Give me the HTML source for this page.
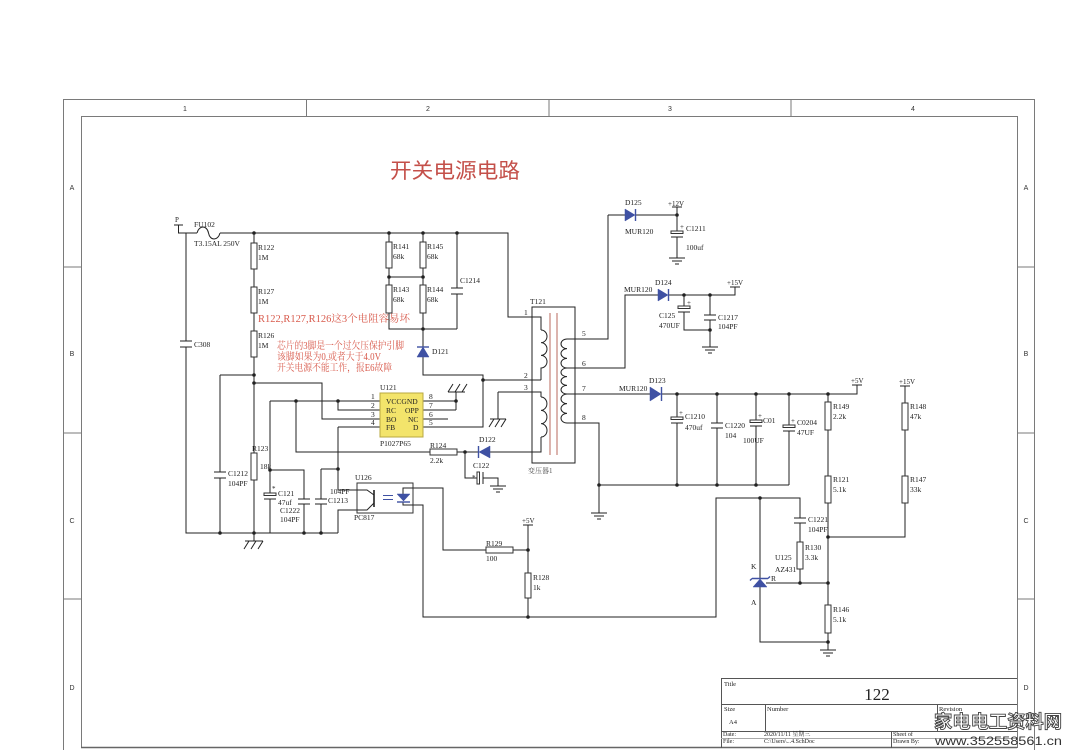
<!DOCTYPE html>
<html><head><meta charset="utf-8"><style>
html,body{margin:0;padding:0;background:#fff;}
svg{display:block;}
.t{font-family:"Liberation Serif","Noto Serif CJK SC",serif;font-size:7.5px;fill:#222;}
.s{font-family:"Liberation Sans",sans-serif;font-size:7px;fill:#333;}
.r{font-family:"Liberation Serif","Noto Serif CJK SC",serif;font-size:10px;fill:#d85a4c;}
</style></head><body>
<svg width="1068" height="750" viewBox="0 0 1068 750" xmlns="http://www.w3.org/2000/svg">
<rect width="1068" height="750" fill="#fff"/>
<!-- borders -->
<g stroke="#7a7a7a" stroke-width="1" fill="none">
<path d="M63.5,750 V99.5 H1034.5 V750"/>
<path d="M81.5,748 V116.5 H1017.5 V748"/>
<path d="M306.5,99 V117 M549,99 V117 M791,99 V117"/>
<path d="M63,267 H81 M63,433 H81 M63,599 H81 M1017,267 H1035 M1017,433 H1035 M1017,599 H1035"/>
</g>
<path d="M81,747.5 H1017" stroke="#666" stroke-width="1.6"/>
<g class="s" text-anchor="middle">
<text x="185" y="111">1</text><text x="428" y="111">2</text><text x="670" y="111">3</text><text x="913" y="111">4</text>
<text x="72" y="190">A</text><text x="72" y="356">B</text><text x="72" y="523">C</text><text x="72" y="690">D</text>
<text x="1026" y="190">A</text><text x="1026" y="356">B</text><text x="1026" y="523">C</text><text x="1026" y="690">D</text>
</g>
<!-- title -->
<text x="390" y="178" font-family="'Noto Sans CJK SC',sans-serif" font-size="21" fill="#c4504a" textLength="130" lengthAdjust="spacingAndGlyphs">开关电源电路</text>

<!-- wires -->
<g stroke="#222" stroke-width="1" fill="none">
<path d="M174,225 H183 M178.5,225 V233 H197"/>
<path d="M197,233 C199,225 207,225 208.5,233 C210,241 218,241 220,233"/>
<path d="M220,233 H508 V317 H541 V330"/>
<path d="M186,233 V341 M186,347 V533 H338"/>
<path d="M180,341 H192 M180,347 H192"/>
<path d="M254,233 V243 M254,269 V287 M254,313 V331 M254,357 V453 M254,480 V541"/>
<path d="M220,375 H254 M220,375 V472 M220,478 V533 M214,472 H226 M214,478 H226"/>
<path d="M254,383 H322 V419 H380"/>
<path d="M389,233 V242 M389,268 V285 M389,313 V329 H457"/>
<path d="M423,233 V242 M423,268 V285 M423,313 V347 M423,357 V375 H483 V427 H423 M483,380 H541"/>
<path d="M389,277 H423"/>
<path d="M457,233 V288 M457,294 V329 M451,288 H463 M451,294 H463"/>
<!-- U121 pins -->
<path d="M270,401 H380 M338,401 V410 H380 M338,427 H380 M423,401 H456 M423,410 H456 M456,392 V410 M423,419 H448"/>
<path d="M270,401 V493 M270,499 V533 M270,470 H304 V499 M304,504 V533 M264,499 H276 M298,499 H310 M298,504 H310"/>
<path d="M321,469 H338 M321,469 V499 M321,504 V533 M315,499 H327 M315,504 H327"/>
<path d="M338,427 V490 H357 M357,510 H338 V533"/>
<path d="M296,401 V452 H430 M457,452 H478 M490,452 H541 V437"/>
<path d="M465,452 V478 H477 M483,472 V484 M483,478 H498 V486"/>
<path d="M498,392 H541 V397 M498,392 V419"/>
<!-- transformer -->
<rect x="532" y="307" width="43" height="156"/>
<path d="M541,330 a6,6.333 0 0 1 0,12.667 a6,6.333 0 0 1 0,12.667 a6,6.333 0 0 1 0,12.666 V380"/>
<path d="M541,397 a6,6.667 0 0 1 0,13.333 a6,6.667 0 0 1 0,13.333 a6,6.667 0 0 1 0,13.334"/>
<path d="M608,215 V339 H567 a6,4.833 0 0 0 0,9.667 a6,4.833 0 0 0 0,9.667 a6,4.833 0 0 0 0,9.666 a6,4.333 0 0 0 0,8.667 a6,4.333 0 0 0 0,8.667 a6,4.333 0 0 0 0,8.666 a6,4.833 0 0 0 0,9.667 a6,4.833 0 0 0 0,9.667 a6,4.833 0 0 0 0,9.666 H599 V513"/>
<path d="M567,368 H625 V295 H658 M567,394 H650"/>
<!-- 12V -->
<path d="M608,215 H625 M636,215 H677 M677,207 V231 M677,237 V258 M672,207 H682 M671,237 H683"/>
<!-- 15V -->
<path d="M669,295 H735 V287 M730,287 H740 M684,295 V306 M684,312 V330 H710 M710,295 V315 M710,320 V347 M678,312 H690 M704,315 H716 M704,320 H716"/>
<!-- 5V -->
<path d="M662,394 H857 V385 M852,385 H862"/>
<path d="M677,394 V417 M671,423 H683 M677,423 V485"/>
<path d="M717,394 V423 M711,423 H723 M711,428 H723 M717,428 V485"/>
<path d="M756,394 V420 M750,426 H762 M756,426 V485"/>
<path d="M789,394 V425 M783,431 H795 M789,431 V485"/>
<path d="M599,485 H789"/>
<path d="M828,394 V402 M828,430 V476 M828,503 V605 M828,633 V650"/>
<path d="M905,386 V403 M900,386 H910 M905,430 V476 M905,503 V537 H828"/>
<!-- feedback -->
<path d="M413,488 H443 V550 H486 M513,550 H528 M528,525 V573 M523,525 H533 M528,598 V617"/>
<path d="M413,505 H423 V617 H716 V498 H800 V518 M794,518 H806 M794,523 H806 M800,523 V542 M800,569 V583"/>
<path d="M760,498 V579 M760,587 V642 H828 M766,583 H828"/>
<!-- PC817 -->
<rect x="357" y="483" width="56" height="30" stroke="#333"/>
<path d="M357,490 H367 L374,495 M357,510 H367 L374,503 M403,494 V488 H413 M403,502 V505 H413"/>
<!-- grounds earth -->
<path d="M490,486 H506 M493,489 H503 M496,492 H500"/>
<path d="M669,258 H685 M672,261 H682 M675,264 H679"/>
<path d="M702,347 H718 M705,350 H715 M708,353 H712"/>
<path d="M591,513 H607 M594,516 H604 M597,519 H601"/>
<path d="M820,650 H836 M823,653 H833 M826,656 H830"/>
<!-- chassis grounds -->
<path d="M245,541 H263 M249,541 L244,549 M256,541 L251,549 M263,541 L258,549"/>
<path d="M490,419 H506 M494,419 L489,427 M500,419 L495,427 M506,419 L501,427"/>
<path d="M448,392 H465 M448,392 L453,384 M455,392 L460,384 M462,392 L467,384"/>
</g>
<!-- core -->
<path d="M550,313 V455 M557,313 V455" stroke="#b86a5e" stroke-width="1"/>
<!-- resistors -->
<g fill="#fff" stroke="#333" stroke-width="1">
<rect x="251" y="243" width="6" height="26"/><rect x="251" y="287" width="6" height="26"/><rect x="251" y="331" width="6" height="26"/>
<rect x="251" y="453" width="6" height="27"/>
<rect x="386" y="242" width="6" height="26"/><rect x="420" y="242" width="6" height="26"/>
<rect x="386" y="285" width="6" height="28"/><rect x="420" y="285" width="6" height="28"/>
<rect x="430" y="449" width="27" height="6"/>
<rect x="486" y="547" width="27" height="6"/>
<rect x="525" y="573" width="6" height="25"/>
<rect x="797" y="542" width="6" height="27"/>
<rect x="825" y="402" width="6" height="28"/><rect x="825" y="476" width="6" height="27"/><rect x="825" y="605" width="6" height="28"/>
<rect x="902" y="403" width="6" height="27"/><rect x="902" y="476" width="6" height="27"/>
<!-- polarized cap plates -->
<rect x="264" y="493" width="12" height="2.5"/>
<rect x="477" y="472" width="2.5" height="12"/>
<rect x="671" y="231" width="12" height="2.5"/>
<rect x="678" y="306" width="12" height="2.5"/>
<rect x="671" y="417" width="12" height="2.5"/>
<rect x="750" y="420" width="12" height="2.5"/>
<rect x="783" y="425" width="12" height="2.5"/>
</g>
<!-- U121 chip -->
<rect x="380" y="393" width="43" height="44" fill="#f3e46b" stroke="#b8a840"/>
<g class="t" font-size="7">
<text x="386" y="404">VCCGND</text>
<text x="386" y="413">RC</text><text x="405" y="413">OPP</text>
<text x="386" y="422">BO</text><text x="408" y="422">NC</text>
<text x="386" y="430">FB</text><text x="413" y="430">D</text>
<text x="371" y="399">1</text><text x="371" y="408">2</text><text x="371" y="417">3</text><text x="371" y="425">4</text>
<text x="429" y="399">8</text><text x="429" y="408">7</text><text x="429" y="417">6</text><text x="429" y="425">5</text>
</g>
<!-- diodes -->
<g fill="#3f51a3" stroke="#3f51a3" stroke-width="1.4">
<polygon points="417,357 429,357 423,347" stroke-width="0.5"/><path d="M417,347 H429" fill="none"/>
<polygon points="490,446 490,458 479,452" stroke-width="0.5"/><path d="M478.5,446 V458" fill="none"/>
<polygon points="625,209 625,221 635,215" stroke-width="0.5"/><path d="M635.5,209 V221" fill="none"/>
<polygon points="658,289 658,301 668,295" stroke-width="0.5"/><path d="M668.5,289 V301" fill="none"/>
<polygon points="650,387 650,401 661,394" stroke-width="0.5"/><path d="M661.5,387 V401" fill="none"/>
<polygon points="753,587 767,587 760,579" stroke-width="0.5"/><path d="M752,578.5 H768 M752,578.5 l-2,2 M768,578.5 l2,-2" fill="none"/>
<polygon points="397,494 410,494 403.5,501" stroke-width="0.5"/><path d="M397,502 H410" fill="none"/>
<path d="M383,495.5 H393 M383,499.5 H393" fill="none" stroke-width="0.9"/>
</g>
<path d="M374,490 V507" stroke="#222" stroke-width="1.6"/>
<!-- junctions -->
<g fill="#222">
<circle cx="254" cy="233" r="1.8"/><circle cx="389" cy="233" r="1.8"/><circle cx="423" cy="233" r="1.8"/><circle cx="457" cy="233" r="1.8"/>
<circle cx="389" cy="277" r="1.8"/><circle cx="423" cy="277" r="1.8"/><circle cx="423" cy="329" r="1.8"/>
<circle cx="254" cy="375" r="1.8"/><circle cx="254" cy="383" r="1.8"/><circle cx="296" cy="401" r="1.8"/><circle cx="338" cy="401" r="1.8"/><circle cx="456" cy="401" r="1.8"/>
<circle cx="270" cy="470" r="1.8"/><circle cx="338" cy="469" r="1.8"/>
<circle cx="220" cy="533" r="1.8"/><circle cx="254" cy="533" r="1.8"/><circle cx="304" cy="533" r="1.8"/><circle cx="321" cy="533" r="1.8"/>
<circle cx="483" cy="380" r="1.8"/><circle cx="465" cy="452" r="1.8"/>
<circle cx="528" cy="550" r="1.8"/><circle cx="528" cy="617" r="1.8"/>
<circle cx="677" cy="215" r="1.8"/><circle cx="684" cy="295" r="1.8"/><circle cx="710" cy="295" r="1.8"/><circle cx="710" cy="330" r="1.8"/>
<circle cx="677" cy="394" r="1.8"/><circle cx="717" cy="394" r="1.8"/><circle cx="756" cy="394" r="1.8"/><circle cx="789" cy="394" r="1.8"/><circle cx="828" cy="394" r="1.8"/>
<circle cx="599" cy="485" r="1.8"/><circle cx="677" cy="485" r="1.8"/><circle cx="717" cy="485" r="1.8"/><circle cx="756" cy="485" r="1.8"/>
<circle cx="760" cy="498" r="1.8"/><circle cx="800" cy="583" r="1.8"/><circle cx="828" cy="583" r="1.8"/><circle cx="828" cy="537" r="1.8"/><circle cx="828" cy="642" r="1.8"/>
</g>
<!-- labels -->
<g class="t">
<text x="175" y="222" font-size="7">P</text>
<text x="194" y="227">FU102</text>
<text x="194" y="246">T3.15AL 250V</text>
<text x="194" y="347">C308</text>
<text x="258" y="250">R122</text><text x="258" y="260">1M</text>
<text x="258" y="294">R127</text><text x="258" y="304">1M</text>
<text x="258" y="338">R126</text><text x="258" y="348">1M</text>
<text x="252" y="451">R123</text><text x="260" y="469">18k</text>
<text x="393" y="249">R141</text><text x="393" y="259">68k</text>
<text x="427" y="249">R145</text><text x="427" y="259">68k</text>
<text x="393" y="292">R143</text><text x="393" y="302">68k</text>
<text x="427" y="292">R144</text><text x="427" y="302">68k</text>
<text x="460" y="283">C1214</text>
<text x="432" y="354">D121</text>
<text x="380" y="390">U121</text>
<text x="380" y="446">P1027P65</text>
<text x="228" y="476">C1212</text><text x="228" y="486">104PF</text>
<text x="272" y="491" font-size="7">*</text>
<text x="278" y="496">C121</text><text x="278" y="505">47uf</text>
<text x="280" y="513">C1222</text><text x="280" y="522">104PF</text>
<text x="330" y="494">104PF</text><text x="328" y="503">C1213</text>
<text x="355" y="480">U126</text><text x="354" y="520">PC817</text>
<text x="430" y="448">R124</text><text x="430" y="463">2.2k</text>
<text x="479" y="442">D122</text>
<text x="473" y="468">C122</text><text x="472" y="480" font-size="7">*</text>
<text x="530" y="304">T121</text>
<text x="524" y="315">1</text><text x="524" y="378">2</text><text x="524" y="390">3</text>
<text x="582" y="336">5</text><text x="582" y="366">6</text><text x="582" y="391">7</text><text x="582" y="420">8</text>
<text x="528" y="473" font-size="7" fill="#555">变压器1</text>
<text x="625" y="205">D125</text><text x="625" y="234">MUR120</text>
<text x="668" y="206" font-size="7">+12V</text>
<text x="680" y="229" font-size="7">+</text>
<text x="686" y="231">C1211</text><text x="686" y="250">100uf</text>
<text x="655" y="285">D124</text><text x="624" y="292">MUR120</text>
<text x="727" y="285" font-size="7">+15V</text>
<text x="687" y="305" font-size="7">+</text>
<text x="659" y="318">C125</text><text x="659" y="328">470UF</text>
<text x="718" y="320">C1217</text><text x="718" y="329">104PF</text>
<text x="649" y="383">D123</text><text x="619" y="391">MUR120</text>
<text x="851" y="383" font-size="7">+5V</text>
<text x="679" y="415" font-size="7">+</text>
<text x="685" y="419">C1210</text><text x="685" y="430">470uf</text>
<text x="725" y="428">C1220</text><text x="725" y="438">104</text>
<text x="758" y="418" font-size="7">+</text>
<text x="763" y="423">C01</text><text x="743" y="443">100UF</text>
<text x="791" y="423" font-size="7">+</text>
<text x="797" y="425">C0204</text><text x="797" y="435">47UF</text>
<text x="833" y="409">R149</text><text x="833" y="419">2.2k</text>
<text x="833" y="482">R121</text><text x="833" y="492">5.1k</text>
<text x="899" y="384" font-size="7">+15V</text>
<text x="910" y="409">R148</text><text x="910" y="419">47k</text>
<text x="910" y="482">R147</text><text x="910" y="492">33k</text>
<text x="833" y="612">R146</text><text x="833" y="622">5.1k</text>
<text x="808" y="522">C1221</text><text x="808" y="532">104PF</text>
<text x="805" y="550">R130</text><text x="805" y="560">3.3k</text>
<text x="775" y="560">U125</text><text x="775" y="572">AZ431</text>
<text x="751" y="569">K</text><text x="751" y="605">A</text><text x="771" y="581">R</text>
<text x="522" y="523" font-size="7">+5V</text>
<text x="486" y="546">R129</text><text x="486" y="561">100</text>
<text x="533" y="580">R128</text><text x="533" y="590">1k</text>
</g>
<!-- red notes -->
<g class="r">
<text x="258" y="322" textLength="152" lengthAdjust="spacingAndGlyphs">R122,R127,R126这3个电阻容易坏</text>
<text x="277" y="349" textLength="127" lengthAdjust="spacingAndGlyphs">芯片的3脚是一个过欠压保护引脚</text>
<text x="277" y="360" textLength="104" lengthAdjust="spacingAndGlyphs">该脚如果为0,或者大于4.0V</text>
<text x="277" y="371" textLength="115" lengthAdjust="spacingAndGlyphs">开关电源不能工作，报E6故障</text>
</g>
<!-- title block -->
<g stroke="#555" stroke-width="1" fill="none">
<path d="M721.5,748 V678.5 H1017"/>
<path d="M721,704.5 H1017 M721,731.5 H1017"/>
<path d="M721,738.5 H1017" stroke="#aaa"/>
<path d="M765.5,704 V731 M937.5,704 V731 M891.5,731 V748"/>
</g>
<g class="t">
<text x="724" y="686" font-size="6.5">Title</text>
<text x="877" y="700" font-size="17" text-anchor="middle">122</text>
<text x="724" y="711" font-size="6.5">Size</text>
<text x="729" y="724" font-size="6.5">A4</text>
<text x="767" y="711" font-size="6.5">Number</text>
<text x="939" y="711" font-size="6.5">Revision</text>
<text x="723" y="736" font-size="6">Date:</text>
<text x="764" y="736" font-size="6">2020/11/11 星期三</text>
<text x="893" y="736" font-size="6">Sheet   of</text>
<text x="723" y="743" font-size="6">File:</text>
<text x="764" y="743" font-size="6">C:\Users\...4.SchDoc</text>
<text x="893" y="743" font-size="6">Drawn By:</text>
</g>
<!-- watermark -->
<text x="934" y="728" font-family="'Noto Sans CJK SC',sans-serif" font-weight="bold" font-size="18" fill="#fff" stroke="#444" stroke-width="0.9" textLength="128" lengthAdjust="spacingAndGlyphs">家电电工资料网</text>
<text x="935" y="745" font-family="'Liberation Sans',sans-serif" font-size="11.5" fill="#333" textLength="127" lengthAdjust="spacingAndGlyphs">www.352558561.cn</text>
</svg>
</body></html>
